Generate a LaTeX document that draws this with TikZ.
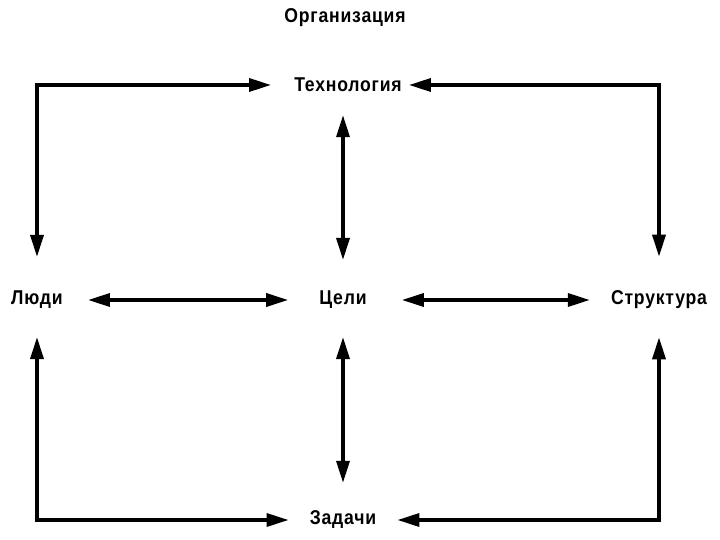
\documentclass[tikz,border=0pt]{standalone}
\usepackage{fontspec}
\setmainfont{Liberation Sans}[LetterSpace=4, FakeStretch=0.88]
\usetikzlibrary{arrows.meta}
\tikzset{
  lab/.style={font=\bfseries\fontsize{20}{22}\selectfont, inner sep=1pt},
  link/.style={line width=3.4pt, {Triangle[length=22pt,width=13pt]}-{Triangle[length=22pt,width=13pt]}},
}

\begin{document}
\begin{tikzpicture}[x=1pt,y=-1pt]
		%%%%% START %%%%%
		\useasboundingbox (0,0) rectangle (720,540);
		
		\node[lab] (org) at (345,18) {Организация};
		\node[lab] (tech) at (348,85) {Технология};
		\node[lab] (lyudi) at (37,300) {Люди};
		\node[lab] (tseli) at (343,300) {Цели};
		\node[lab] (strukt) at (659,300) {Структура};
		\node[lab] (zad) at (343,520) {Задачи};
		
		% upper frame
		\draw[link, shorten <=33pt, shorten >=22pt] (lyudi.north) |- (tech.west);
		\draw[link, shorten <=33pt, shorten >=6pt] (strukt.north) |- (tech.east);
		
		% centre cross
		\draw[link, shorten <=22pt, shorten >=30pt] (tech.south -| tseli) -- (tseli.north);
		\draw[link, shorten <=27pt, shorten >=27pt] (tseli.south) -- (zad.north);
		\draw[link, shorten <=24pt, shorten >=30pt] (lyudi.east) -- (tseli.west);
		\draw[link, shorten <=34pt, shorten >=20pt] (tseli.east) -- (strukt.west |- tseli);
		
		% lower frame
		\draw[link, shorten <=27pt, shorten >=20pt] (lyudi.south) |- (zad.west);
		\draw[link, shorten <=27pt, shorten >=20pt] (strukt.south) |- (zad.east);
		%%%%% END %%%%%
	\end{tikzpicture}
\end{document}
